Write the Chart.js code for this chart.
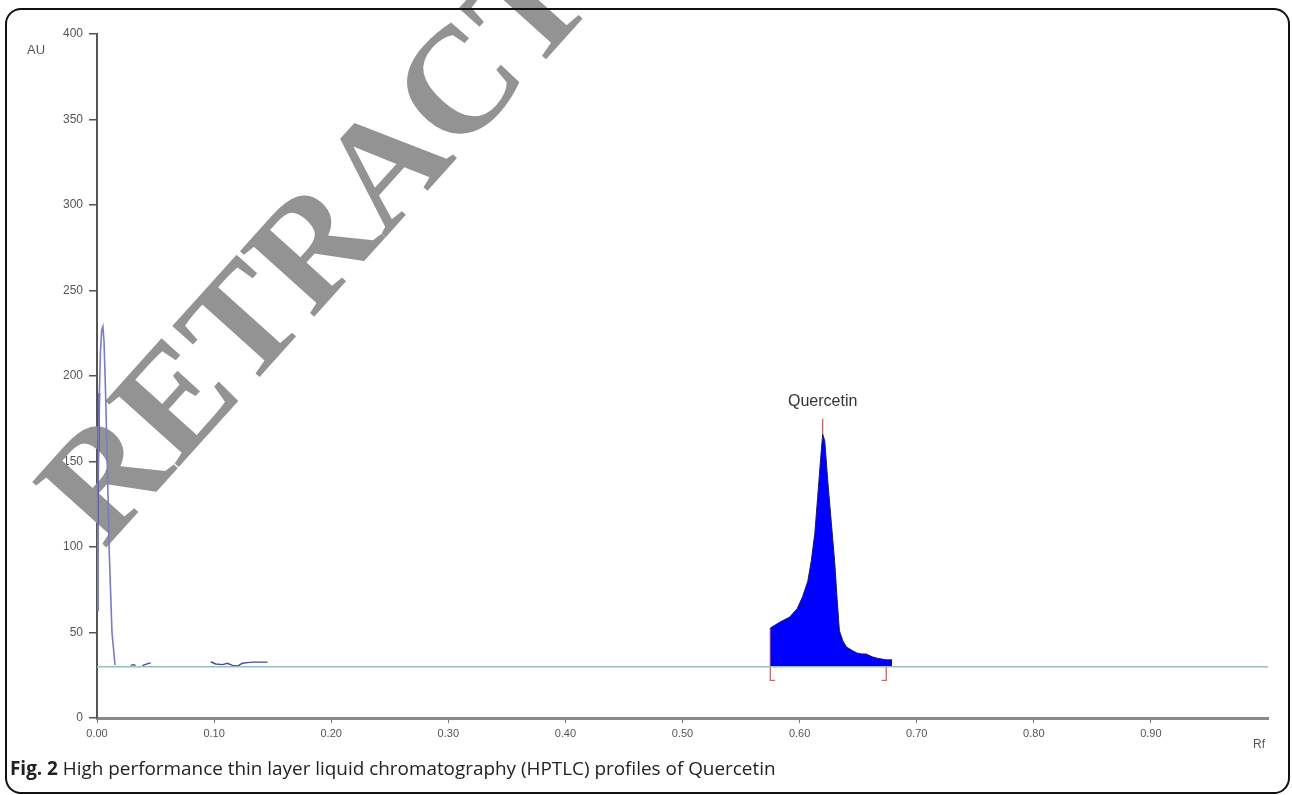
<!DOCTYPE html>
<html><head><meta charset="utf-8">
<script src="https://cdn.jsdelivr.net/npm/chart.js@4.4.1/dist/chart.umd.min.js"></script>
<style>
html,body{margin:0;padding:0;background:#fff;width:1292px;height:795px;overflow:hidden;}
#wrap{position:relative;width:1292px;height:795px;}
#cv{position:absolute;left:0;top:0;}
#frame{position:absolute;left:5px;top:8px;width:1285px;height:786px;border:2px solid #111;border-radius:16px;box-sizing:border-box;pointer-events:none;}
#caption{position:absolute;left:10px;top:757px;font-family:"Open Sans",sans-serif;font-size:18.9px;line-height:22px;color:#222;white-space:nowrap;}
</style></head>
<body>
<div id="wrap">
<canvas id="cv" width="1292" height="795"></canvas>
<div id="frame"></div>
<div id="caption"><b>Fig. 2</b> High performance thin layer liquid chromatography (HPTLC) profiles of Quercetin</div>
</div>
<script>
// ---- data ----
const xTickValues = [0, 0.1, 0.2, 0.3, 0.4, 0.5, 0.6, 0.7, 0.8, 0.9];
const yTickValues = [0, 50, 100, 150, 200, 250, 300, 350, 400];
const baselineAU = 30;

const leftPeakRf = [0, 0.0005, 0.001, 0.002, 0.003, 0.004, 0.005, 0.006, 0.007, 0.0088, 0.0103, 0.0128, 0.0154];
const leftPeakAU = [63, 110, 150, 190, 215, 227, 229, 220, 198, 150, 100, 50, 31];

const noise1Rf = [0.0288, 0.031, 0.033];
const noise1AU = [30.8, 31.2, 30.8];
const noise2Rf = [0.0387, 0.041, 0.0435, 0.0459];
const noise2AU = [30.6, 31.2, 31.8, 32.2];
const noise3Rf = [0.0971, 0.1014, 0.1071, 0.1114, 0.1157, 0.1199, 0.1242, 0.1285, 0.1328, 0.1385, 0.1456];
const noise3AU = [32.9, 31.6, 31.2, 32.0, 30.8, 30.4, 32.0, 32.4, 32.7, 32.7, 32.7];

const quercetinRf = [0.575, 0.583, 0.5915, 0.598, 0.6026, 0.607, 0.610, 0.613, 0.6154, 0.618, 0.6197, 0.6215, 0.624, 0.627, 0.630, 0.632, 0.634, 0.637, 0.640, 0.645, 0.649, 0.653, 0.657, 0.662, 0.666, 0.670, 0.674, 0.679];
const quercetinAU = [52.6, 56, 59, 64, 71, 80, 92, 108, 129, 152, 166, 162, 139, 115, 91, 70, 51, 45, 41.5, 39.5, 38, 37.5, 37.4, 35.8, 35, 34.5, 34, 34];

const peakName = 'Quercetin';
const peakRf = 0.6197;
const peakAU = 166;
const peakMarkTopAU = 175;
const labelAU = 185;
const integStartRf = 0.575, integStartAU = 52.6;
const integEndRf = 0.674, integEndAU = 34;
const bracketBottomAU = 22;
const bracketFoot = 0.004;

// ---- helpers ----
const pts = (xs, ys) => xs.map((x, i) => ({x, y: ys[i]}));

const lineDs = (data, color, width, extra) => Object.assign({
  data, borderColor: color, borderWidth: width, showLine: true,
  pointRadius: 0, pointHoverRadius: 0, tension: 0, fill: false
}, extra || {});

const datasets = [
  lineDs([{x:0, y:baselineAU}, {x:1, y:baselineAU}], '#9dbdbd', 1.6),
  lineDs(pts(quercetinRf, quercetinAU), '#1a1a6e', 1, {fill: {value: baselineAU}, backgroundColor: '#0000ff'}),
  lineDs(pts(leftPeakRf, leftPeakAU), '#7b7bc4', 1.6),
  lineDs(pts(leftPeakRf.slice(0, 4), leftPeakAU.slice(0, 4)), '#23237d', 2),
  lineDs(pts(noise1Rf, noise1AU), '#4a4aa0', 1.4),
  lineDs(pts(noise2Rf, noise2AU), '#4a4aa0', 1.4),
  lineDs(pts(noise3Rf, noise3AU), '#4a4aa0', 1.4),
  lineDs([{x:integStartRf, y:integStartAU}, {x:integStartRf, y:bracketBottomAU}, {x:integStartRf + bracketFoot, y:bracketBottomAU}], '#c46a6a', 1.3),
  lineDs([{x:integEndRf, y:integEndAU}, {x:integEndRf, y:bracketBottomAU}, {x:integEndRf - bracketFoot, y:bracketBottomAU}], '#c46a6a', 1.3),
  lineDs([{x:peakRf, y:peakAU}, {x:peakRf, y:peakMarkTopAU}], '#c46a6a', 1.3)
];

const extras = {
  id: 'extras',
  beforeDatasetsDraw(chart) {
    const ctx = chart.ctx;
    ctx.save();
    ctx.translate(104, 550);
    ctx.rotate(-48 * Math.PI / 180);
    ctx.font = 'bold 151px "Liberation Serif"';
    ctx.fillStyle = '#939393';
    ctx.textAlign = 'left';
    ctx.textBaseline = 'alphabetic';
    ctx.fillText('RETRACTED', 0, 0);
    ctx.restore();
  },
  afterDatasetsDraw(chart) {
    const ctx = chart.ctx, xs = chart.scales.x, ys = chart.scales.y;
    ctx.save();
    ctx.fillStyle = '#333';
    ctx.font = '16px "Liberation Sans"';
    ctx.textAlign = 'center';
    ctx.textBaseline = 'middle';
    ctx.fillText(peakName, xs.getPixelForValue(peakRf), ys.getPixelForValue(labelAU));
    ctx.fillStyle = '#555';
    ctx.font = '13px "Liberation Sans"';
    ctx.textAlign = 'left';
    ctx.fillText('AU', 27, 50);
    ctx.font = '12px "Liberation Sans"';
    ctx.fillText('Rf', 1253, 745);
    ctx.restore();
  }
};

new Chart(document.getElementById('cv'), {
  type: 'scatter',
  data: {datasets},
  plugins: [extras],
  options: {
    responsive: false,
    animation: false,
    events: [],
    layout: {padding: {top: 34, right: 24, left: 0, bottom: 0}},
    plugins: {legend: {display: false}, tooltip: {enabled: false}},
    scales: {
      x: {
        type: 'linear', min: 0, max: 1,
        afterBuildTicks(s) { s.ticks = xTickValues.map(v => ({value: v})); },
        afterFit(s) { s.height = 77; },
        ticks: {
          callback: v => v.toFixed(2),
          font: {family: '"Liberation Sans"', size: 11},
          color: '#555', padding: 4, maxRotation: 0, autoSkip: false
        },
        grid: {drawOnChartArea: false, drawTicks: true, tickLength: 5, color: '#777', lineWidth: 1},
        border: {display: true, color: '#8a8a8a', width: 3}
      },
      y: {
        type: 'linear', min: 0, max: 400,
        afterBuildTicks(s) { s.ticks = yTickValues.map(v => ({value: v})); },
        afterFit(s) { s.width = 97; },
        ticks: {
          font: {family: '"Liberation Sans"', size: 12},
          color: '#555', padding: 6
        },
        grid: {drawOnChartArea: false, drawTicks: true, tickLength: 8, color: '#555', lineWidth: 1.5},
        border: {display: true, color: '#555', width: 2}
      }
    }
  }
});
</script>
</body></html>
